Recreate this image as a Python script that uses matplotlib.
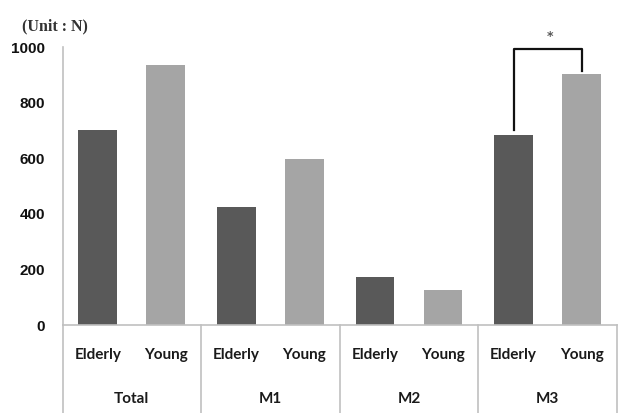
import numpy as np
import matplotlib.pyplot as plt
from matplotlib.transforms import blended_transform_factory

groups = ['Total', 'M1', 'M2', 'M3']
subgroups = ['Elderly', 'Young']
elderly = [700, 424, 173, 685]
young = [935, 599, 125, 903]
yticks = [0, 200, 400, 600, 800, 1000]

dark = '#595959'
light = '#a5a5a5'
axis_col = '#c0c0c0'

fig = plt.figure(figsize=(6.25, 4.13), dpi=100)
ax = fig.add_axes([0.1, 0.213, 0.887, 0.673])

x = np.arange(len(groups))
off = 0.245
w = 0.28
ax.bar(x - off, elderly, w, color=dark, zorder=2)
ax.bar(x + off, young, w, color=light, zorder=2)

ax.set_xlim(-0.5, len(groups) - 0.5)
ax.set_ylim(0, 1000)
ax.set_yticks(yticks)
ax.set_yticklabels([str(t) for t in yticks], family='Liberation Sans',
                   fontweight='bold', fontsize=11, color='#111111')
ax.tick_params(axis='y', length=0, pad=12.5)
ax.set_xticks([])

for s in ['top', 'right']:
    ax.spines[s].set_visible(False)
ax.spines['left'].set_color(axis_col)
ax.spines['bottom'].set_color(axis_col)
ax.spines['left'].set_linewidth(1.2)
ax.spines['bottom'].set_linewidth(1.2)

# category separators and two-level labels
tr = blended_transform_factory(ax.transData, ax.transAxes)
for b in np.arange(len(groups) + 1) - 0.5:
    ax.plot([b, b], [0, -0.33], transform=tr, color=axis_col, lw=1.2, clip_on=False)
for i, g in enumerate(groups):
    for j, sg in enumerate(subgroups):
        ax.text(i + (2 * j - 1) * off, -0.108, sg, transform=tr, ha='center', va='center',
                family='Lato', fontweight='bold', fontsize=11, color='#1a1a1a')
    ax.text(i, -0.266, g, transform=tr, ha='center', va='center',
            family='Lato', fontweight='bold', fontsize=11, color='#1a1a1a')

# significance bracket for M3
i = 3
top = 993
ax.plot([i - off, i - off, i + off, i + off], [elderly[i] + 17, top, top, young[i] + 12],
        color='#111111', lw=1.6, clip_on=False, zorder=3)
ax.text(i + 0.02, top + 45, '*', ha='center', va='center', fontsize=9,
        fontweight='bold', color='#555555')

fig.text(0.035, 0.935, '(Unit : N)', family='Liberation Serif', fontweight='bold',
         fontsize=11.5, color='#333333', ha='left', va='center')

fig.savefig('out.png', dpi=100)
